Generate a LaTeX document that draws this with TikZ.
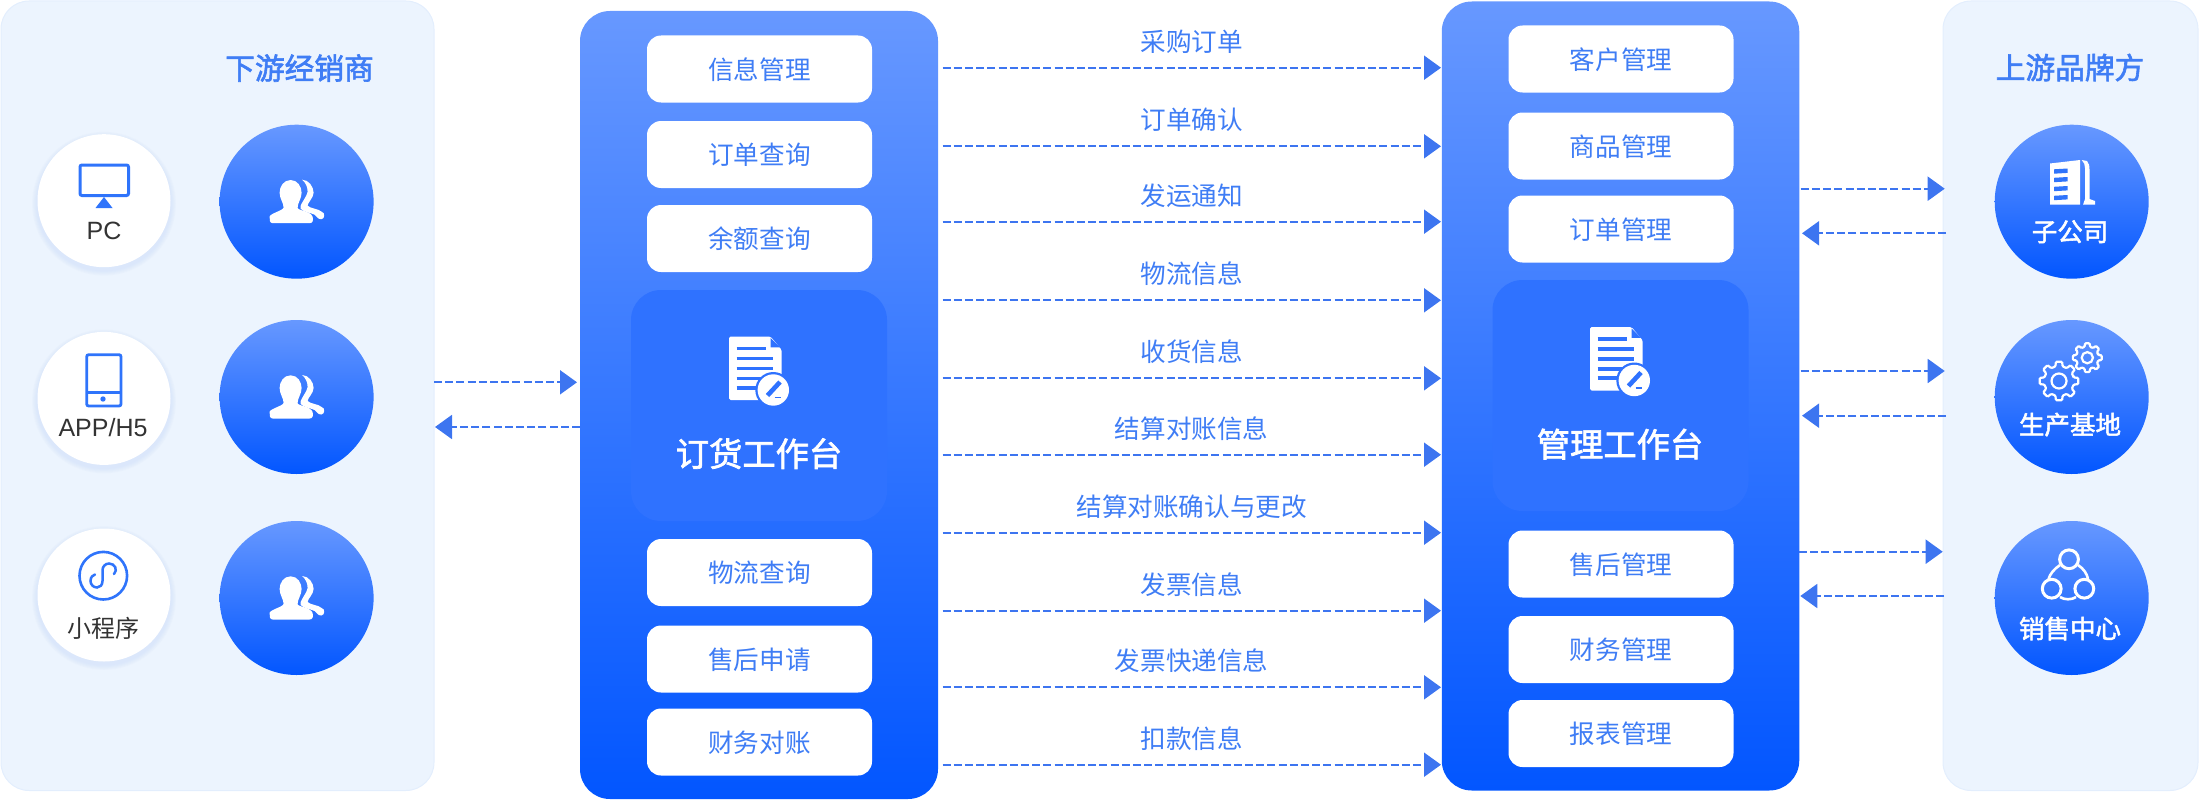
\documentclass[tikz,border=0pt]{standalone}
\usepackage{fontspec}
\setmainfont{Noto Sans CJK SC}
\newfontfamily\latinfont{Liberation Sans}
\newfontfamily\mediumfont[FakeBold=2]{Noto Sans CJK SC}
\usetikzlibrary{arrows.meta}
\definecolor{sidepanel}{HTML}{ECF4FE}
\definecolor{sideedge}{HTML}{E3EEFD}
\definecolor{topblue}{HTML}{6798FF}
\definecolor{lowblue}{HTML}{0256FF}
\definecolor{innerblue}{HTML}{2F72FF}
\definecolor{textblue}{HTML}{3F7DF5}
\definecolor{iconblue}{HTML}{2F74FB}
\definecolor{flowblue}{HTML}{3D75F0}
\definecolor{softblue}{HTML}{C9DBFB}
\definecolor{darktext}{HTML}{333333}
\tikzset{
  cjktext/.style={font=\fontsize{#1}{#1}\selectfont, text height=.9*#1, text depth=.1*#1, inner sep=0pt},
  cjkmedium/.style={font=\mediumfont\fontsize{#1}{#1}\selectfont, text height=.9*#1, text depth=.1*#1, inner sep=0pt},
  sidebox/.style={fill=sidepanel, draw=sideedge, line width=1pt, rounded corners=28pt},
  bench/.style={top color=topblue, bottom color=lowblue, rounded corners=30pt, inner sep=0pt},
  innerbox/.style={fill=innerblue, rounded corners=30pt, inner sep=0pt, minimum width=256, minimum height=231},
  itembox/.style={fill=white, rounded corners=14pt, minimum width=225, minimum height=67, text=textblue, cjktext=25.6},
  bluedisc/.style={circle, top color=topblue, bottom color=lowblue, minimum size=154, inner sep=0pt},
  whitedisc/.style={circle, fill=white, minimum size=133, inner sep=0pt},
  flow/.style={flowblue, line width=2pt, dash pattern=on 8pt off 3.2pt, -{Triangle[length=17pt,width=24pt]}},
  usericon/.pic={
    \fill[white] (-6,-21.7) .. controls (1,-21.7) and (5,-15) .. (5,-9) .. controls (5,-3) and (1,1) .. (1,6)
      .. controls (1,9) and (14,9) .. (16,15) .. controls (17,19) and (16,21.5) .. (13,21.5) -- (-24,21.5)
      .. controls (-27,21.5) and (-27,18) .. (-27,15) .. controls (-27,12) and (-14,9) .. (-13,6)
      .. controls (-13,1) and (-17,-3) .. (-17,-9) .. controls (-17,-15) and (-13,-21.7) .. (-6,-21.7) -- cycle;
    \fill[white] (5.5,-22) .. controls (12,-22) and (17,-15) .. (17,-9) .. controls (17,-4) and (11,1) .. (11,4)
      .. controls (14,7) and (22,7) .. (25,10) .. controls (29,11) and (28,17) .. (25,17.5) .. controls (21,18) and (20,14) .. (18,13)
      .. controls (14,11) and (8,11) .. (4,7) .. controls (2,4) and (10,-4) .. (11,-10)
      .. controls (11,-15) and (9,-19) .. (5.5,-22) -- cycle;
  },
  docicon/.pic={
    \fill[white, rounded corners=1.5pt] (-26,-31.3) -- (15.7,-31.3) -- (26.7,-18) -- (26.7,32) -- (-26,32) -- cycle;
    \fill[innerblue] (15.7,-30) -- (15.7,-20.7) -- (25,-20.7) -- cycle;
    \foreach \ly/\lx in {-19.7/10.7, -9.7/18.3, 0.3/18.3, 10.3/18.3, 19.7/18.3}
      \draw[innerblue, line width=3.6pt] (-18.3,\ly) -- (\lx,\ly);
    \fill[innerblue] (18.3,22) circle (18);
    \fill[white] (18.3,22) circle (15.7);
    \draw[innerblue, line width=4.6pt] (25,14) -- (12.5,27.5);
    \draw[innerblue, line width=1.6pt] (19.5,29.5) -- (26,29.5);
  },
  gearicon/.pic={
    \draw[white, line width=2.2pt, rounded corners=1pt] (-14:15)
      \foreach \a in {0,45,...,315} { -- (\a-14:15) -- (\a-9:19.5) -- (\a+9:19.5) -- (\a+14:15) } -- cycle;
    \draw[white, line width=2.2pt] (0,0) circle (7.5);
  }
}
\begin{document}
\begin{tikzpicture}[x=1pt, y=-1pt]
  \useasboundingbox (0,0) rectangle (2199,800);

  % side panels and the two benches
  \draw[sidebox] (1,1) rectangle (434,790.5);
  \draw[sidebox] (1943,1) rectangle (2198,790.5);
  \node[bench, minimum width=358, minimum height=788] (orderbench) at (759,405) {};
  \node[bench, minimum width=357.5, minimum height=789] (managebench) at (1620.5,396) {};

  % order bench
  \foreach \n/\y/\t in {a/69/信息管理, b/154.5/订单查询, c/238.5/余额查询, d/572.5/物流查询, e/659/售后申请, f/742/财务对账}
    \node[itembox] (order\n) at (759.5,\y) {\t};
  \node[innerbox] (orderinner) at (759,405.5) {};
  \pic at (755,368) {docicon};
  \node[cjkmedium=33.3, text=white] (ordertitle) at (759,453) {订货工作台};

  % manage bench
  \foreach \n/\y/\t in {a/59/客户管理, b/146/商品管理, c/229/订单管理, d/564/售后管理, e/649.5/财务管理, f/733.5/报表管理}
    \node[itembox] (manage\n) at (1621,\y) {\t};
  \node[innerbox] (manageinner) at (1620.5,395.5) {};
  \pic at (1616,358.5) {docicon};
  \node[cjkmedium=33.3, text=white] (managetitle) at (1620,443.5) {管理工作台};

  % downstream side
  \node[cjkmedium=29.7, text=textblue] (downtitle) at (299.5,67.5) {下游经销商};
  \foreach \n/\wy/\y in {1/200.7/201.7, 2/398.4/397, 3/595/598} {
    \foreach \s in {1,...,6}
      \fill[softblue, opacity=.09] (104,\wy+3) circle (66.5+\s*.9);
    \node[whitedisc] (client\n) at (104,\wy) {};
    \node[bluedisc] (dealer\n) at (296.6,\y) {};
    \pic at (dealer\n.center) {usericon};
  }
  % pc
  \draw[iconblue, line width=3pt, rounded corners=2pt] (80,165) rectangle (128.5,195.5);
  \fill[iconblue] (104,197) -- (112.5,208) -- (95.5,208) -- cycle;
  \node[font=\latinfont\fontsize{25}{25}\selectfont, text=darktext, inner sep=0pt] (pclabel) at (104,231) {PC};
  % phone
  \draw[iconblue, line width=2.8pt, rounded corners=2pt] (86.7,354.7) rectangle (121,406);
  \draw[iconblue, line width=2.4pt] (86.7,392.3) -- (121,392.3);
  \fill[iconblue] (103,399) circle (2.7);
  \node[font=\latinfont\fontsize{25}{25}\selectfont, text=darktext, inner sep=0pt] (applabel) at (103,428) {APP/H5};
  % mini program
  \draw[iconblue, line width=2.6pt] (103.3,575.7) circle (23.8);
  \draw[iconblue, line width=2.5pt, line cap=round] (114,574) .. controls (118,570) and (115,563.5) .. (109,563.5)
    .. controls (105,563.5) and (102.5,567) .. (102.5,570) -- (102.5,581)
    .. controls (102.5,585) and (100,587.5) .. (97,587.5) .. controls (93,587.5) and (90.5,584) .. (90.5,581)
    .. controls (90.5,577) and (93,575) .. (95,574.5);
  \node[cjktext=24, text=darktext] (minilabel) at (103.5,627.7) {小程序};

  % upstream side
  \node[cjkmedium=29.7, text=textblue] (uptitle) at (2070,67) {上游品牌方};
  \node[bluedisc] (brand1) at (2071.7,201.7) {};
  \node[bluedisc] (brand2) at (2071.7,397) {};
  \node[bluedisc] (brand3) at (2071.7,598) {};
  \node[cjkmedium=25.5, text=white] (brand1label) at (2070,231) {子公司};
  \node[cjkmedium=25.5, text=white] (brand2label) at (2070,424) {生产基地};
  \node[cjkmedium=25.5, text=white] (brand3label) at (2070,628) {销售中心};
  % building
  \fill[white] (2050,163.5) -- (2080,160) -- (2080,204.7) -- (2050,204.7) -- cycle;
  \foreach \by in {168.5,177,186,195}
    \fill[iconblue] (2054,\by+.8) -- (2067.5,\by) -- (2067.5,\by+4.4) -- (2054,\by+5.2) -- cycle;
  \fill[white] (2081.7,160) -- (2087,161) .. controls (2089,163) and (2089.5,166) .. (2089.5,170) -- (2089.5,199)
    -- (2095,201) -- (2095,204.7) -- (2083,204.7) -- (2085,199) -- (2085,168) .. controls (2085,165) and (2084,162) .. (2081.7,160) -- cycle;
  % gears
  \pic at (2059,381) {gearicon};
  \pic[scale=.75] at (2087.3,357.7) {gearicon};
  % rings
  \draw[white, line width=3pt] (2069,559.3) circle (9.4);
  \draw[white, line width=3pt] (2051.7,588.7) circle (9.4);
  \draw[white, line width=3pt] (2084.3,588.7) circle (9.4);
  \draw[white, line width=2.6pt] (2060,565) .. controls (2054,569) and (2050,574) .. (2048.5,579);
  \draw[white, line width=2.6pt] (2078,565) .. controls (2084,569) and (2087,574) .. (2088,579);
  \draw[white, line width=2.6pt] (2060,597) .. controls (2064,600) and (2072,600) .. (2076,597);

  % flows between benches
  \foreach \n/\y/\t in {1/67.7/采购订单, 2/146.3/订单确认, 3/221.7/发运通知, 4/300.3/物流信息, 5/378.3/收货信息,
      6/454.7/结算对账信息, 7/532.7/结算对账确认与更改, 8/610.7/发票信息, 9/687.3/发票快递信息, 10/764.7/扣款信息} {
    \coordinate (from\n) at (942.5,\y);
    \coordinate (to\n) at (1441,\y);
    \draw[flow] (from\n) -- (to\n) node[midway, yshift=26.7pt, cjktext=25.6, text=textblue] (msg\n) {\t};
  }

  % flows at the sides
  \coordinate (downout) at (434,382.3);
  \coordinate (orderin) at (577,382.3);
  \coordinate (orderout) at (580,427);
  \coordinate (downin) at (435,427);
  \draw[flow] (downout) -- (orderin);
  \draw[flow] (orderout) -- (downin);
  \foreach \n/\ya/\yb/\xa/\xb in {1/188.7/233.3/1800.7/1944.7, 2/371/415.7/1800.7/1944.7, 3/551.7/596/1799/1942.7} {
    \coordinate (manageout\n) at (\xa,\ya);
    \coordinate (brandin\n) at (\xb,\ya);
    \coordinate (brandout\n) at (\xb+1.3,\yb);
    \coordinate (managein\n) at (\xa+1.3,\yb);
    \draw[flow] (manageout\n) -- (brandin\n);
    \draw[flow] (brandout\n) -- (managein\n);
  }
\end{tikzpicture}
\end{document}
